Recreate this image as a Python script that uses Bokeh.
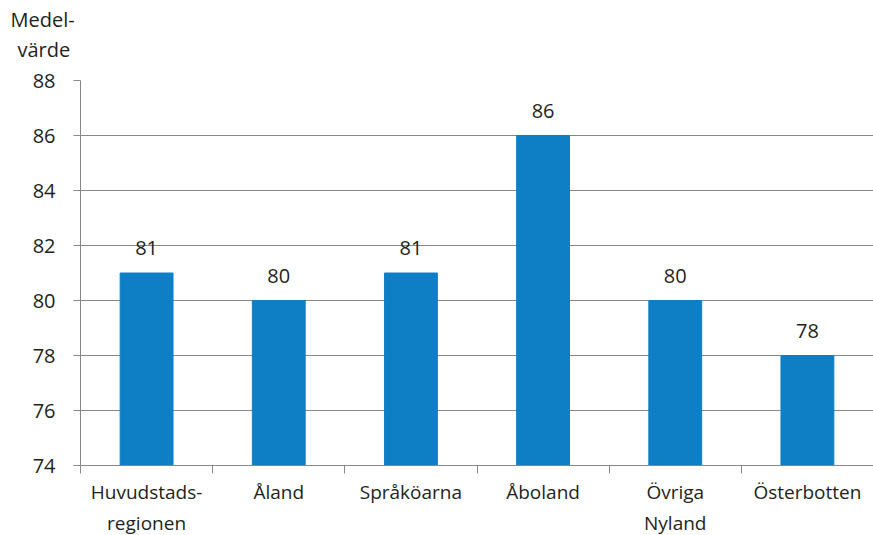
from bokeh.plotting import figure
from bokeh.models import FixedTicker, Range1d, Title, LabelSet, ColumnDataSource
from bokeh.core.properties import value
from bokeh.embed import file_html
from bokeh.resources import INLINE

categories = ["Huvudstads-\nregionen", "Åland", "Språköarna", "Åboland", "Övriga\nNyland", "Österbotten"]
values = [81, 80, 81, 86, 80, 78]
y_ticks = [74, 76, 78, 80, 82, 84, 86, 88]
y_min, y_max = 74, 88
unit_label = ["Medel-", "värde"]

FONT = "Open Sans"
FS = "20px"
TXT = "#231f20"
GRAY = "#878787"
BAR = "#0f7fc5"

n = len(categories)
centers = [i + 0.5 for i in range(n)]
src = ColumnDataSource(dict(x=centers, top=values, lab=[str(v) for v in values]))

p = figure(width=873, height=538, output_backend="svg", toolbar_location=None,
           x_range=Range1d(0, n), y_range=Range1d(y_min, y_max),
           min_border_left=80, min_border_top=80, min_border_bottom=60, min_border_right=0)
p.outline_line_color = None
p.background_fill_color = "white"
p.border_fill_color = "white"

p.vbar(x="x", top="top", bottom=y_min, width=0.4, source=src, fill_color=BAR, line_color=BAR)

labels = LabelSet(x="x", y="top", text="lab", source=src, text_align="center", text_baseline="alphabetic",
                  y_offset=18, text_font=value(FONT), text_font_size=value(FS), text_color=TXT)
p.add_layout(labels)

# y axis
p.yaxis.ticker = FixedTicker(ticks=y_ticks)
p.yaxis.major_tick_in = 0
p.yaxis.major_tick_out = 7
p.yaxis.minor_tick_out = 0
p.yaxis.minor_tick_in = 0
p.yaxis.axis_line_color = GRAY
p.yaxis.major_tick_line_color = GRAY
p.yaxis.major_label_text_font = FONT
p.yaxis.major_label_text_font_size = FS
p.yaxis.major_label_text_color = TXT
p.yaxis.major_label_standoff = 18

# x axis
p.xaxis.ticker = FixedTicker(ticks=centers, minor_ticks=list(range(n + 1)))
p.xaxis.major_label_overrides = {c: lab for c, lab in zip(centers, categories)}
p.xaxis.major_tick_in = 0
p.xaxis.major_tick_out = 0
p.xaxis.minor_tick_in = 0
p.xaxis.minor_tick_out = 8
p.xaxis.minor_tick_line_color = GRAY
p.xaxis.axis_line_color = GRAY
p.xaxis.major_label_text_font = FONT
p.xaxis.major_label_text_font_size = "19px"
p.xaxis.major_label_text_color = TXT
p.xaxis.major_label_standoff = 5

p.xgrid.grid_line_color = None
p.ygrid.ticker = FixedTicker(ticks=y_ticks)
p.ygrid.grid_line_color = GRAY
p.ygrid.grid_line_width = 1

# unit label above the y axis (nearest title first)
for t, off, sd in [(unit_label[1], -63, 36), (unit_label[0], -70, -34)]:
    p.add_layout(Title(text=t, align="left", offset=off, text_font=FONT, text_font_size=FS,
                       text_font_style="normal", text_color=TXT, standoff=sd), "above")

open("out.html", "w").write(file_html(p, INLINE))
